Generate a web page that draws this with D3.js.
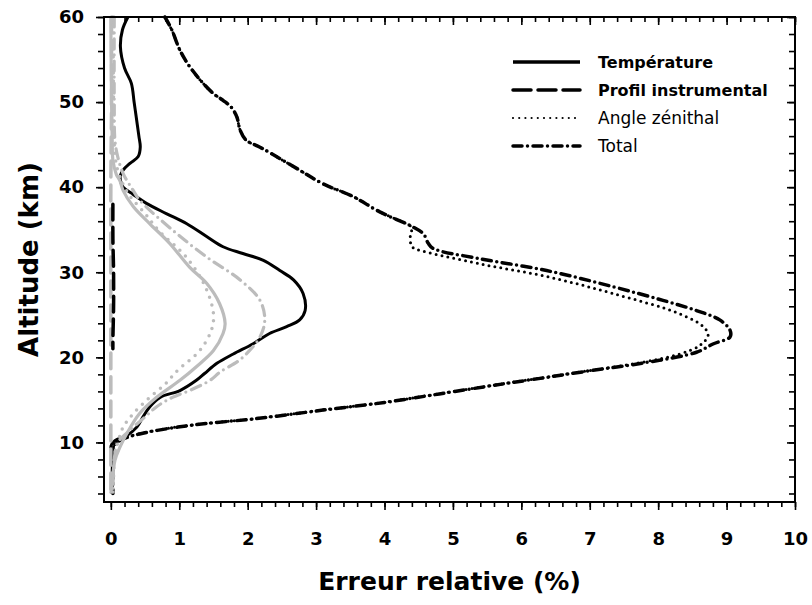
<!DOCTYPE html>
<html>
<head>
<meta charset="utf-8">
<script src="https://cdn.jsdelivr.net/npm/d3@7"></script>
<style>
  html, body { margin: 0; padding: 0; background: #fff; }
  svg { display: block; }
  text { font-family: "DejaVu Sans", sans-serif; fill: #000; }
</style>
</head>
<body>
<svg id="chart" width="812" height="605"></svg>
<script>
// ---- Altitude profiles of relative error (%) ----
// Black curves
const tempAlt  = [60, 58.5, 56.5, 54, 52.2, 50, 48.3, 46, 44.7, 43.6, 42.8, 42, 41.4, 40.8, 40, 39.3, 38.9, 38.1, 36.9, 35.7, 34.2, 33, 32.2, 31.4, 30.2, 29.1, 27.5, 25.5, 24.4, 23.6, 22.8, 21.6, 20.4, 19.3, 18.1, 17.3, 16.1, 15.3, 14.2, 13, 11.8, 10.8, 10.2, 9.4, 8.7, 7.9, 6.7, 4.7, 4.0];
const tempVal  = [0.25, 0.17, 0.14, 0.2, 0.30, 0.34, 0.37, 0.41, 0.43, 0.40, 0.28, 0.18, 0.14, 0.14, 0.18, 0.30, 0.37, 0.52, 0.81, 1.11, 1.40, 1.64, 1.93, 2.23, 2.47, 2.67, 2.81, 2.84, 2.76, 2.57, 2.32, 2.08, 1.79, 1.55, 1.37, 1.25, 1.01, 0.72, 0.57, 0.47, 0.38, 0.23, 0.06, 0.0, 0.06, 0.03, 0.02, 0.02, 0.01];

const profAlt  = [38, 34, 30, 26, 22, 21];
const profVal  = [0.03, 0.03, 0.04, 0.04, 0.03, 0.03];

const angleAlt = [60, 58.5, 56.1, 54.2, 52.2, 51.0, 50.2, 49.4, 48.3, 46.7, 45.5, 44.7, 43.6, 42.0, 40.4, 38.9, 37.1, 35.3, 35.0, 34.5, 33.5, 33.0, 32.7, 31.0, 29.5, 27.5, 25.1, 23.6, 22.6, 21.4, 20.4, 19.4, 18.3, 17.5, 16.9, 15.7, 14.7, 13.8, 12.8, 12.0, 11.0, 10.4, 9.8, 9.0, 8, 6, 4];
const angleVal = [0.79, 0.89, 1.01, 1.15, 1.35, 1.50, 1.64, 1.76, 1.84, 1.89, 1.98, 2.18, 2.42, 2.76, 3.10, 3.54, 3.93, 4.40, 4.40, 4.38, 4.38, 4.40, 4.47, 5.39, 6.37, 7.34, 8.32, 8.66, 8.73, 8.61, 8.32, 7.75, 6.88, 6.23, 5.73, 4.78, 3.98, 3.08, 2.11, 1.13, 0.40, 0.17, 0.05, 0.04, 0.03, 0.03, 0.03];

const totalAlt = [60, 58.5, 56.1, 54.2, 52.2, 51.0, 50.2, 49.4, 48.3, 46.7, 45.5, 44.7, 43.6, 42.0, 40.4, 38.9, 37.1, 35.3, 34.5, 33.4, 32.8, 31.6, 30.2, 28.3, 26.7, 25.5, 24.4, 23.2, 22.4, 21.6, 20.6, 19.4, 18.3, 17.5, 16.9, 15.7, 14.7, 13.8, 12.8, 12.0, 11.0, 10.4, 9.8, 9.0, 8, 6, 4];
const totalVal = [0.79, 0.89, 1.01, 1.15, 1.35, 1.50, 1.64, 1.76, 1.84, 1.89, 1.98, 2.18, 2.42, 2.76, 3.10, 3.54, 3.93, 4.42, 4.57, 4.64, 4.71, 5.39, 6.37, 7.34, 8.07, 8.56, 8.90, 9.05, 9.05, 8.81, 8.56, 7.83, 6.90, 6.25, 5.75, 4.80, 4.00, 3.10, 2.13, 1.15, 0.42, 0.18, 0.06, 0.04, 0.03, 0.03, 0.03];

// Grey curves
const gSolidAlt = [60, 50, 45.5, 43.2, 41.5, 40.8, 39.6, 37.7, 35.7, 33.4, 30.6, 28.7, 26.3, 24.0, 22.8, 20.8, 18.9, 17.3, 15.3, 13.4, 11.0, 9.4, 7.9, 4.7, 4.0];
const gSolidVal = [0.0, 0.01, 0.02, 0.03, 0.08, 0.13, 0.18, 0.33, 0.57, 0.86, 1.15, 1.40, 1.59, 1.67, 1.64, 1.50, 1.25, 1.01, 0.67, 0.42, 0.23, 0.13, 0.06, 0.01, 0.0];

const gDashAlt = [60, 50, 40, 30, 20, 10, 4];
const gDashVal = [0.01, 0.01, 0.0, 0.0, 0.0, 0.0, 0.0];

const gDotAlt = [60, 50, 45, 42, 39.3, 36.9, 34.9, 31.8, 28.3, 25.1, 23.2, 20.8, 18.5, 16.9, 15.3, 13.4, 11.8, 10.2, 8.7, 6, 4];
const gDotVal = [0.03, 0.04, 0.05, 0.10, 0.25, 0.50, 0.70, 1.10, 1.38, 1.50, 1.47, 1.30, 0.98, 0.80, 0.57, 0.33, 0.18, 0.11, 0.06, 0.04, 0.03];

const gDashDotAlt = [60, 50, 45.5, 43.6, 41.6, 39.7, 38.5, 34.9, 31.8, 29.1, 26.7, 24.4, 22.4, 20.4, 19.5, 18.3, 17.3, 16.1, 15.3, 14.2, 13, 11, 10, 8, 4];
const gDashDotVal = [0.05, 0.05, 0.06, 0.10, 0.18, 0.32, 0.42, 0.91, 1.40, 1.89, 2.18, 2.25, 2.18, 1.98, 1.85, 1.60, 1.45, 1.15, 0.90, 0.67, 0.50, 0.22, 0.10, 0.05, 0.03];

// Axis ticks and labels
const xMajorTicks = [0, 1, 2, 3, 4, 5, 6, 7, 8, 9, 10];
const yMajorTicks = [10, 20, 30, 40, 50, 60];
const legendLabels = ["Température", "Profil instrumental", "Angle zénithal", "Total"];

// ---- Layout ----
const frame = { left: 104, right: 795, top: 17, bottom: 502 };
const GREY = "#bcbcbc";

const svg = d3.select("#chart");
const x = d3.scaleLinear().domain([-0.1, 10]).range([frame.left, frame.right]);
const y = d3.scaleLinear().domain([3, 60]).range([frame.bottom, frame.top]);

const xMinor = d3.range(0, 10.001, 0.2);
const yMinor = d3.range(4, 60.001, 2);

// Axes: outward ticks bottom/left, inward ticks top/right
function styleAxis(g) {
  g.select(".domain").remove();
  g.selectAll(".tick line").attr("stroke", "#000").attr("stroke-width", 1.6);
}
svg.append("g").attr("transform", `translate(0,${frame.bottom})`)
  .call(d3.axisBottom(x).tickValues(xMinor).tickSize(5).tickFormat(""))
  .call(styleAxis);
svg.append("g").attr("transform", `translate(0,${frame.bottom})`)
  .call(d3.axisBottom(x).tickValues(xMajorTicks).tickSize(8).tickPadding(22).tickFormat(d3.format("d")))
  .call(styleAxis)
  .call(g => g.selectAll("text").attr("font-size", 18).attr("font-weight", "bold").style("font-family", "DejaVu Sans"));
svg.append("g").attr("transform", `translate(0,${frame.top})`)
  .call(d3.axisTop(x).tickValues(xMinor).tickSize(-5).tickFormat(""))
  .call(styleAxis);
svg.append("g").attr("transform", `translate(0,${frame.top})`)
  .call(d3.axisTop(x).tickValues(xMajorTicks).tickSize(-8).tickFormat(""))
  .call(styleAxis);

svg.append("g").attr("transform", `translate(${frame.left},0)`)
  .call(d3.axisLeft(y).tickValues(yMinor).tickSize(6).tickFormat(""))
  .call(styleAxis);
svg.append("g").attr("transform", `translate(${frame.left},0)`)
  .call(d3.axisLeft(y).tickValues(yMajorTicks).tickSize(8).tickPadding(12).tickFormat(d3.format("d")))
  .call(styleAxis)
  .call(g => g.selectAll("text").attr("font-size", 18).attr("font-weight", "bold").style("font-family", "DejaVu Sans"));
svg.append("g").attr("transform", `translate(${frame.right},0)`)
  .call(d3.axisRight(y).tickValues(yMinor).tickSize(-6).tickFormat(""))
  .call(styleAxis);
svg.append("g").attr("transform", `translate(${frame.right},0)`)
  .call(d3.axisRight(y).tickValues(yMajorTicks).tickSize(-8).tickFormat(""))
  .call(styleAxis);

// ---- Curves ----
const line = d3.line()
  .x(d => x(d[0]))
  .y(d => y(d[1]))
  .curve(d3.curveCatmullRom.alpha(0.5));

const zip = (vals, alts) => vals.map((v, i) => [v, alts[i]]);

const plot = svg.append("g");
function drawCurve(vals, alts, color, width, dash) {
  plot.append("path")
    .datum(zip(vals, alts))
    .attr("d", line)
    .attr("fill", "none")
    .attr("stroke", color)
    .attr("stroke-width", width)
    .attr("stroke-linecap", dash ? "round" : "butt")
    .attr("stroke-linejoin", "round")
    .attr("stroke-dasharray", dash || null);
}

const styles = {
  solid:   { width: 3,   dash: null },
  dashed:  { width: 3.5, dash: "16,7" },
  dotted:  { width: 3,   dash: "0,6" },
  dashdot: { width: 3.5, dash: "9,5.5,0,5.5" }
};

// black curves underneath
drawCurve(tempVal,  tempAlt,  "#000", styles.solid.width,   styles.solid.dash);
drawCurve(angleVal, angleAlt, "#000", styles.dotted.width,  styles.dotted.dash);
drawCurve(totalVal, totalAlt, "#000", styles.dashdot.width, styles.dashdot.dash);
// grey curves
drawCurve(gDashVal,     gDashAlt,     GREY, 3.5, "16,8");
drawCurve(gSolidVal,    gSolidAlt,    GREY, 3.2, null);
drawCurve(gDotVal,      gDotAlt,      GREY, 3.5, "0,8");
drawCurve(gDashDotVal,  gDashDotAlt,  GREY, 3.2, "10,6,0,6");
// instrumental profile on top
drawCurve(profVal, profAlt, "#000", styles.dashed.width, styles.dashed.dash);

// ---- Frame ----
svg.append("rect")
  .attr("x", frame.left).attr("y", frame.top)
  .attr("width", frame.right - frame.left).attr("height", frame.bottom - frame.top)
  .attr("fill", "none").attr("stroke", "#000").attr("stroke-width", 2);

// ---- Legend ----
const legendKeys = ["solid", "dashed", "dotted", "dashdot"];
const legendWeights = ["bold", "bold", "normal", "normal"];
const legendSizes = [16, 16, 17, 17];
const legend = svg.append("g").attr("transform", "translate(512,62)");
legendLabels.forEach((label, i) => {
  const st = styles[legendKeys[i]];
  const row = legend.append("g").attr("transform", `translate(0,${i * 28})`);
  row.append("line")
    .attr("x1", 1).attr("x2", 68).attr("y1", 0).attr("y2", 0)
    .attr("stroke", "#000")
    .attr("stroke-width", legendKeys[i] === "dotted" ? 2.2 : 3.5)
    .attr("stroke-linecap", st.dash ? "round" : "butt")
    .attr("stroke-dasharray", legendKeys[i] === "dashed" ? "18,7" : (legendKeys[i] === "dotted" ? "0,6.2" : st.dash));
  row.append("text")
    .attr("x", 86).attr("y", 6)
    .attr("font-size", legendSizes[i])
    .attr("font-weight", legendWeights[i])
    .text(label);
});

// ---- Axis titles ----
svg.append("text")
  .attr("x", (frame.left + frame.right) / 2).attr("y", 590)
  .attr("text-anchor", "middle")
  .attr("font-size", 25).attr("font-weight", "bold")
  .text("Erreur relative (%)");

svg.append("text")
  .attr("transform", `translate(38,${(frame.top + frame.bottom) / 2}) rotate(-90)`)
  .attr("text-anchor", "middle")
  .attr("font-size", 26).attr("font-weight", "bold")
  .text("Altitude (km)");
</script>
</body>
</html>
